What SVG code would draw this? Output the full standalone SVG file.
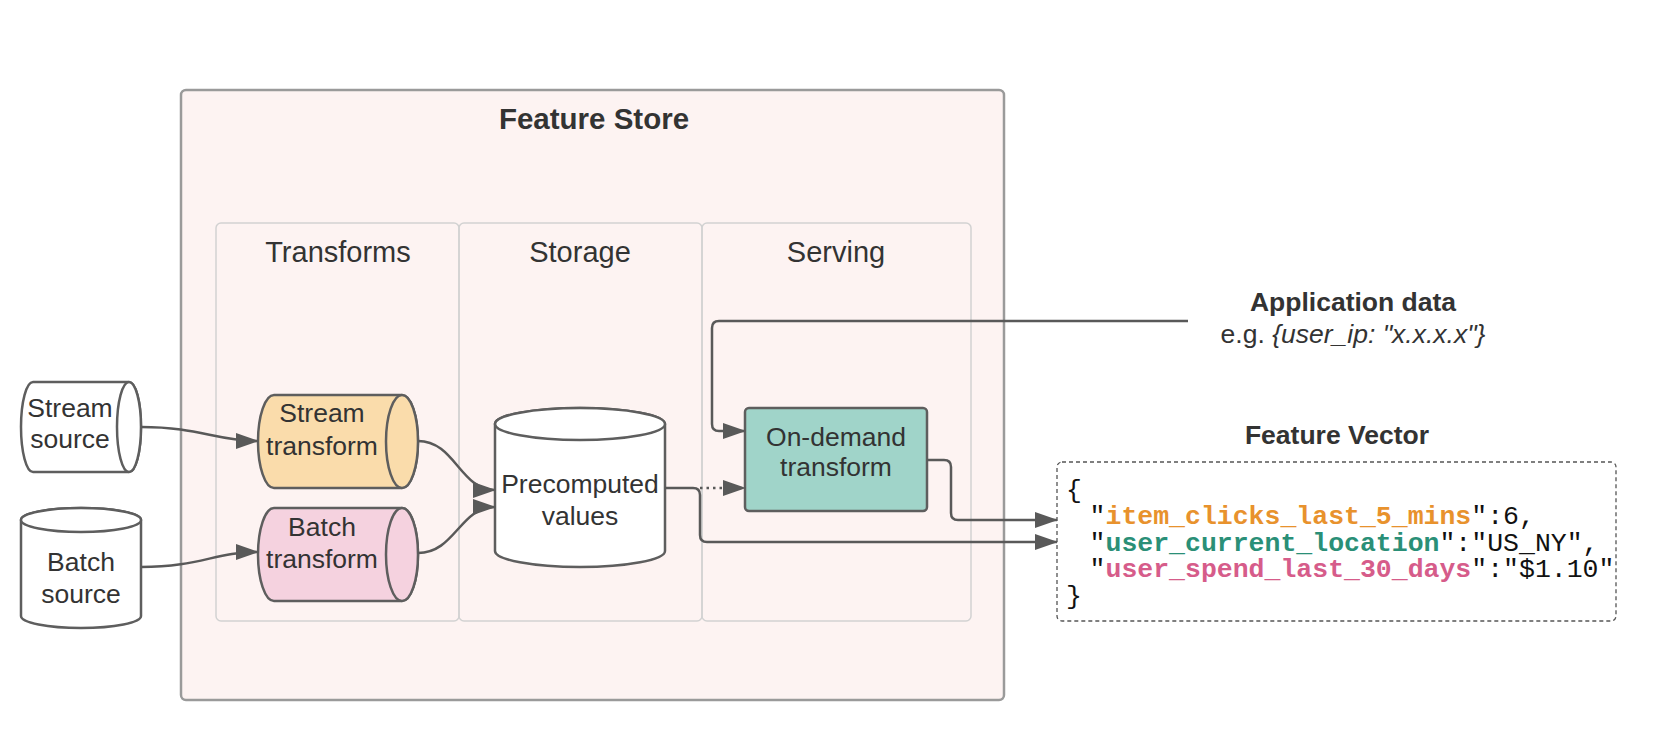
<svg xmlns="http://www.w3.org/2000/svg" width="1662" height="732" viewBox="0 0 1662 732">
<defs>
<marker id="arr" markerWidth="23" markerHeight="16" refX="22" refY="8" orient="auto" markerUnits="userSpaceOnUse">
<path d="M0,0 L23,8 L0,16 Z" fill="#595959"/>
</marker>
<style>
.lbl{font-family:"Liberation Sans",Arial,sans-serif;fill:#333;text-anchor:middle}
.node{stroke:#5e5e5e;stroke-width:2.5}
.conn{fill:none;stroke:#595959;stroke-width:2.5}
.code{font-family:"Liberation Mono","DejaVu Sans Mono",monospace;font-size:26.5px;fill:#111}
</style>
</defs>
<rect width="1662" height="732" fill="#ffffff"/>
<g id="feature-store">
<rect x="181" y="90" width="823" height="610" rx="5" fill="#fdf3f2" stroke="#9a9a9a" stroke-width="2.5"/>
<text class="lbl" x="594" y="129" font-size="29.5" font-weight="bold">Feature Store</text>
</g>
<g id="lane-transforms">
<rect x="216" y="223" width="243" height="398" rx="5" fill="none" stroke="#d2d2d2" stroke-width="1.5"/>
<text class="lbl" x="338" y="262" font-size="29">Transforms</text>
</g>
<g id="lane-storage">
<rect x="459" y="223" width="243" height="398" rx="5" fill="none" stroke="#d2d2d2" stroke-width="1.5"/>
<text class="lbl" x="580" y="262" font-size="29">Storage</text>
</g>
<g id="lane-serving">
<rect x="702" y="223" width="269" height="398" rx="5" fill="none" stroke="#d2d2d2" stroke-width="1.5"/>
<text class="lbl" x="836" y="262" font-size="29">Serving</text>
</g>
<g id="stream-source">
<path class="node" d="M33,382 L129,382 A12,45 0 0 1 129,472 L33,472 A12,45 0 0 1 33,382 Z" fill="#fff"/>
<ellipse class="node" cx="129" cy="427" rx="12" ry="45" fill="#fff"/>
<text class="lbl" x="70" y="417" font-size="26.5">Stream</text>
<text class="lbl" x="70" y="448" font-size="26.5">source</text>
</g>
<g id="batch-source">
<path class="node" d="M21,520 L21,616 A60,12 0 0 0 141,616 L141,520 A60,12 0 0 0 21,520 Z" fill="#fff"/>
<ellipse class="node" cx="81" cy="520" rx="60" ry="12" fill="#fff"/>
<text class="lbl" x="81" y="571" font-size="26.5">Batch</text>
<text class="lbl" x="81" y="603" font-size="26.5">source</text>
</g>
<g id="stream-transform">
<path class="node" d="M274,395 L402,395 A16,46.5 0 0 1 402,488 L274,488 A16,46.5 0 0 1 274,395 Z" fill="#fadcab"/>
<ellipse class="node" cx="402" cy="441.5" rx="16" ry="46.5" fill="#fadcab"/>
<text class="lbl" x="322" y="422" font-size="26.5">Stream</text>
<text class="lbl" x="322" y="455" font-size="26.5">transform</text>
</g>
<g id="batch-transform">
<path class="node" d="M274,508 L402,508 A16,46.5 0 0 1 402,601 L274,601 A16,46.5 0 0 1 274,508 Z" fill="#f5d2df"/>
<ellipse class="node" cx="402" cy="554.5" rx="16" ry="46.5" fill="#f5d2df"/>
<text class="lbl" x="322" y="536" font-size="26.5">Batch</text>
<text class="lbl" x="322" y="568" font-size="26.5">transform</text>
</g>
<g id="precomputed-values">
<path class="node" d="M495,424 L495,551 A85,16 0 0 0 665,551 L665,424 A85,16 0 0 0 495,424 Z" fill="#fff"/>
<ellipse class="node" cx="580" cy="424" rx="85" ry="16" fill="#fff"/>
<text class="lbl" x="580" y="493" font-size="26.5">Precomputed</text>
<text class="lbl" x="580" y="525" font-size="26.5">values</text>
</g>
<g id="on-demand-transform">
<rect class="node" x="745" y="408" width="182" height="103" rx="4" fill="#a0d4c9"/>
<text class="lbl" x="836" y="446" font-size="26.5">On-demand</text>
<text class="lbl" x="836" y="476" font-size="26.5">transform</text>
</g>
<g id="application-data">
<text class="lbl" x="1353" y="311" font-size="26.5" font-weight="bold">Application data</text>
<text class="lbl" x="1353" y="343" font-size="26.5">e.g. <tspan font-style="italic">{user_ip: "x.x.x.x"}</tspan></text>
</g>
<g id="feature-vector">
<text class="lbl" x="1337" y="444" font-size="26.5" font-weight="bold">Feature Vector</text>
<rect x="1057" y="462" width="559" height="159" rx="5" fill="#fff" stroke="#555" stroke-width="1.3" stroke-dasharray="4,3"/>
<text class="code" x="1066" y="498">{</text>
<text class="code" x="1089.6" y="524">"<tspan fill="#e8922d" font-weight="bold">item_clicks_last_5_mins</tspan>":6,</text>
<text class="code" x="1089.6" y="551">"<tspan fill="#2a8f77" font-weight="bold">user_current_location</tspan>":"US_NY",</text>
<text class="code" x="1089.6" y="577">"<tspan fill="#d65c8a" font-weight="bold">user_spend_last_30_days</tspan>":"$1.10"</text>
<text class="code" x="1066" y="604">}</text>
</g>
<g id="connectors">
<path class="conn" d="M141,427 C200,427 215,441 258,441" marker-end="url(#arr)"/>
<path class="conn" d="M141,567 C200,567 215,552 258,552" marker-end="url(#arr)"/>
<path class="conn" d="M418,441 C455,441 460,490 495,490" marker-end="url(#arr)"/>
<path class="conn" d="M418,553 C455,553 460,507 495,507" marker-end="url(#arr)"/>
<path class="conn" d="M665,488 L693,488 Q700,488 700,495 L700,535 Q700,542 707,542 L1057,542" marker-end="url(#arr)"/>
<path class="conn" d="M700,488 L745,488" stroke-dasharray="2.5,4" marker-end="url(#arr)"/>
<path class="conn" d="M1188,321 L719,321 Q712,321 712,328 L712,424 Q712,431 719,431 L745,431" marker-end="url(#arr)"/>
<path class="conn" d="M927,460 L944,460 Q951,460 951,467 L951,513 Q951,520 958,520 L1057,520" marker-end="url(#arr)"/>
</g>
</svg>
